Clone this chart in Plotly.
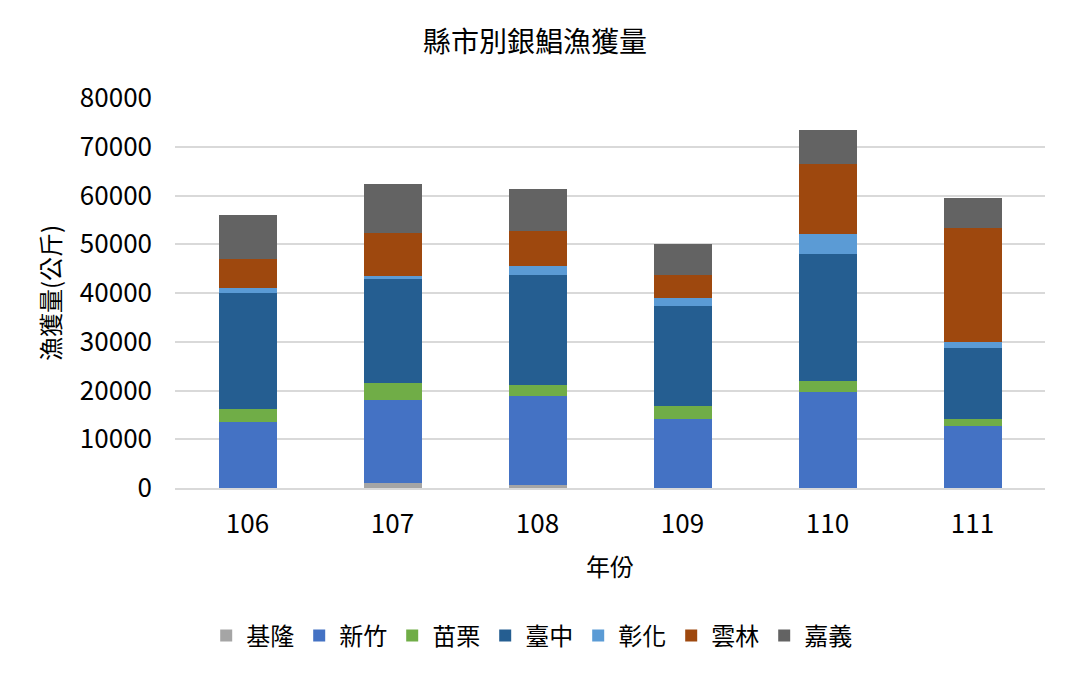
import plotly.graph_objects as go

# 年份 (民國)
years = ["106", "107", "108", "109", "110", "111"]

# 各縣市銀鯧漁獲量 (公斤)
keelung = [0, 1000, 600, 0, 0, 0]
hsinchu = [13600, 17100, 18300, 14200, 19700, 12800]
miaoli = [2600, 3500, 2200, 2600, 2200, 1400]
taichung = [23900, 21300, 22600, 20500, 26100, 14500]
changhua = [1000, 600, 1800, 1700, 4100, 1300]
yunlin = [5900, 8800, 7200, 4600, 14400, 23400]
chiayi = [9000, 10100, 8600, 6500, 6900, 6100]

series = [
    ("基隆", keelung, "#A5A5A5"),
    ("新竹", hsinchu, "#4472C4"),
    ("苗栗", miaoli, "#70AD47"),
    ("臺中", taichung, "#255E91"),
    ("彰化", changhua, "#5B9BD5"),
    ("雲林", yunlin, "#9E480E"),
    ("嘉義", chiayi, "#636363"),
]

font = "Noto Sans CJK TC"

fig = go.Figure()
for name, vals, color in series:
    fig.add_trace(go.Bar(
        name=name, x=years, y=vals,
        marker=dict(color=color, line=dict(width=0)),
    ))

# the page puts the figure 8px in from the top-left corner, margins allow for that
fig.update_layout(
    barmode="stack",
    bargap=0.6,
    width=1069, height=673,
    paper_bgcolor="white", plot_bgcolor="white",
    margin=dict(l=167, r=32, t=90, b=193),
    font=dict(family=font, size=24, color="#000000"),
    title=dict(text="縣市別銀鯧漁獲量", x=0.493, xanchor="center",
               y=0.9495, yanchor="middle", font=dict(size=28, family=font)),
    legend=dict(orientation="h", x=0.41, xanchor="center", y=-0.379,
                yanchor="middle", font=dict(size=24), traceorder="normal",
                itemwidth=30),
)

fig.update_yaxes(
    range=[0, 80000], dtick=10000, tickformat="d",
    showgrid=True, gridcolor="#D9D9D9", gridwidth=1.5,
    zeroline=False, showline=False, ticklabelstandoff=22,
    tickfont=dict(size=26),
    title=dict(text="漁獲量(公斤)", font=dict(size=24), standoff=12),
)
fig.update_xaxes(
    showgrid=False, showline=True, linecolor="#D9D9D9", linewidth=1.5,
    ticklabelstandoff=12, tickfont=dict(size=26),
    title=dict(text="年份", font=dict(size=24), standoff=20),
)

fig.write_html("out.html")
